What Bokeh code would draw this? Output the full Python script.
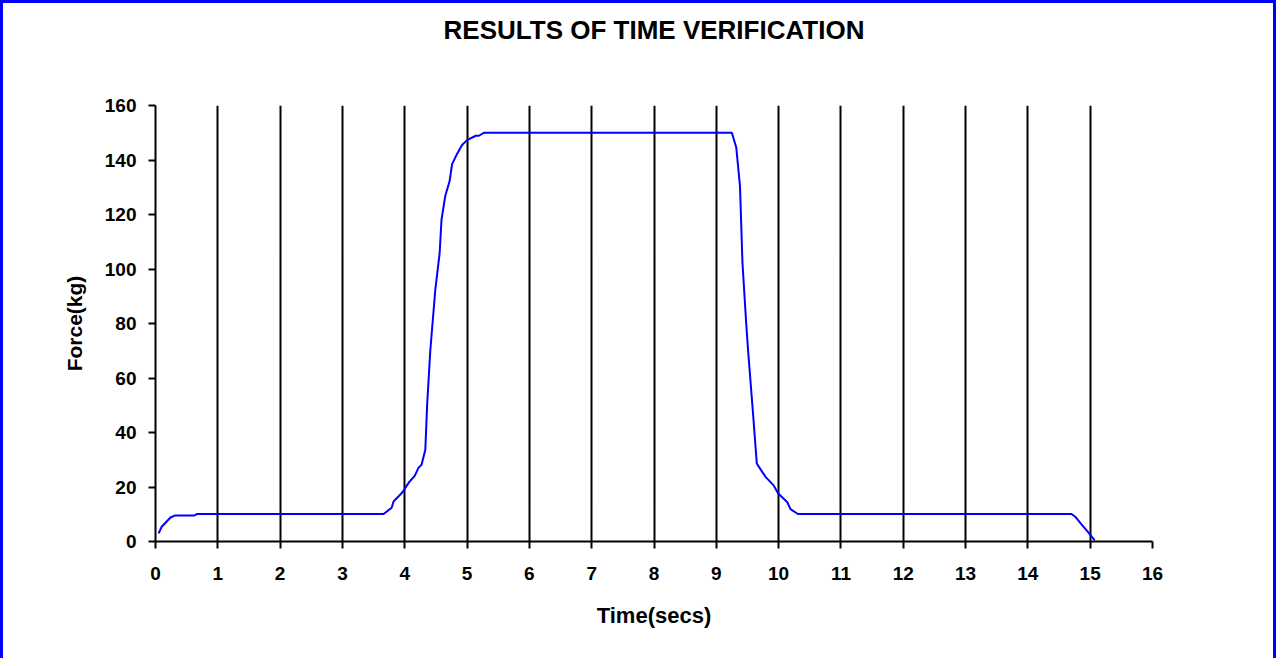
from bokeh.plotting import figure
from bokeh.models import Range1d, FixedTicker, Title
from bokeh.embed import file_html
from bokeh.resources import INLINE

# Data
time_secs = [0.05, 0.10, 0.24, 0.31, 0.62, 0.67, 3.66, 3.79, 3.82, 3.96, 4.07, 4.16,
             4.22, 4.27, 4.33, 4.36, 4.41, 4.49, 4.56, 4.59, 4.65, 4.72, 4.76, 4.83,
             4.92, 5.00, 5.14, 5.19, 5.27, 9.25, 9.32, 9.38, 9.42, 9.48, 9.51, 9.59,
             9.65, 9.69, 9.79, 9.92, 9.99, 10.14, 10.19, 10.31, 14.70, 14.76, 14.86,
             14.95, 15.07]
force_kg = [3.0, 5.4, 8.8, 9.5, 9.5, 10.1, 10.1, 12.4, 14.7, 18.0, 21.8, 24.1,
            27.0, 28.2, 33.7, 50.4, 70.1, 92.3, 105.8, 118.1, 126.8, 132.3, 138.5, 141.8,
            145.5, 147.3, 148.9, 148.9, 150.0, 150.0, 144.6, 130.4, 102.1, 79.9, 70.1, 46.7,
            28.6, 27.2, 23.7, 20.6, 17.7, 14.4, 11.9, 10.1, 10.1, 9.1, 6.3,
            3.9, 0.5]

x_ticks = list(range(0, 17))
y_ticks = [0, 20, 40, 60, 80, 100, 120, 140, 160]
title_text = "RESULTS OF TIME VERIFICATION"

FONT = "Liberation Sans"

p = figure(width=1276, height=658, output_backend="svg", toolbar_location=None,
           x_range=Range1d(0, 16), y_range=Range1d(0, 160),
           min_border_left=152, min_border_right=127, min_border_top=102,
           min_border_bottom=120)
p.styles = {"border": "3px solid #0000ff", "border-bottom": "none",
            "box-sizing": "border-box"}

# spacer title (closest to the frame) then the real title above it
p.add_layout(Title(text=" ", text_font=FONT, text_font_size="26px", standoff=29), "above")
p.add_layout(Title(text=title_text, align="center", text_font=FONT,
                   text_font_size="26px", text_font_style="bold",
                   text_color="black", standoff=0), "above")

p.outline_line_color = None
p.background_fill_color = "white"
p.border_fill_color = "white"

p.xaxis.ticker = FixedTicker(ticks=x_ticks)
p.yaxis.ticker = FixedTicker(ticks=y_ticks)
p.xaxis.axis_label = "Time(secs)"
p.yaxis.axis_label = "Force(kg)"
for ax in (p.xaxis, p.yaxis):
    ax.axis_line_color = "black"
    ax.axis_line_width = 2
    ax.major_tick_line_color = "black"
    ax.major_tick_line_width = 2
    ax.major_tick_out = 7
    ax.major_tick_in = 0
    ax.minor_tick_line_color = None
    ax.major_label_text_font = FONT
    ax.major_label_text_font_style = "bold"
    ax.major_label_text_font_size = "19px"
    ax.major_label_text_color = "black"
    ax.axis_label_text_font = FONT
    ax.axis_label_text_font_style = "bold"
    ax.axis_label_text_color = "black"
p.xaxis.axis_label_text_font_size = "22px"
p.yaxis.axis_label_text_font_size = "21px"
p.xaxis.major_label_standoff = 18
p.yaxis.major_label_standoff = 12
p.xaxis.axis_label_standoff = 20
p.yaxis.axis_label_standoff = 16

p.xgrid.ticker = FixedTicker(ticks=x_ticks[1:])
p.xgrid.grid_line_color = "black"
p.xgrid.grid_line_width = 2
p.xgrid.grid_line_alpha = 1.0
p.ygrid.grid_line_color = None

p.line(time_secs, force_kg, line_color="#0000ff", line_width=2)

open("out.html", "w").write(file_html(p, INLINE))
